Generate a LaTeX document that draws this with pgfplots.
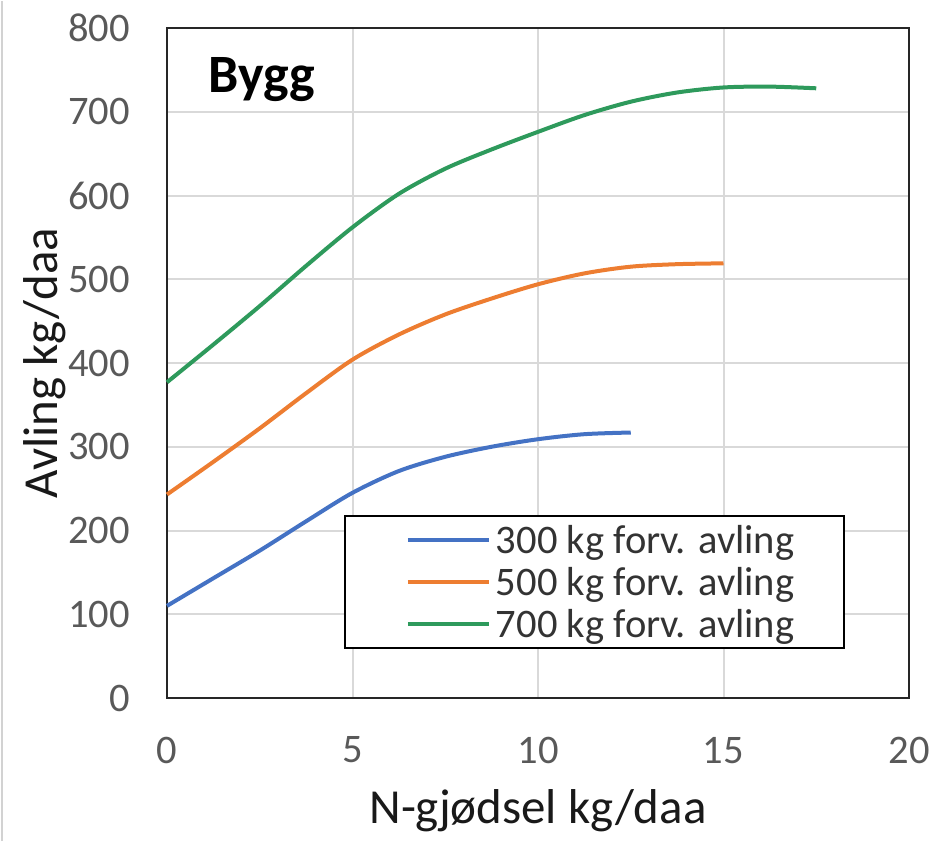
\documentclass[border=0pt]{standalone}
\usepackage{fontspec}
\setmainfont{Carlito}
\usepackage{pgfplots}
\pgfplotsset{compat=1.18}
\definecolor{cblue}{HTML}{4472C4}
\definecolor{corange}{HTML}{ED7D31}
\definecolor{cgreen}{HTML}{2E9A5C}
\definecolor{tickgray}{HTML}{595959}
\definecolor{gridgray}{HTML}{D9D9D9}
\begin{document}
\begin{tikzpicture}
\path (-125.25pt,-107.25pt) rectangle (576pt,522.75pt);
\draw[color=gray!35, line width=1.5pt] (-123.75pt,-107.25pt) -- (-123.75pt,522.75pt);
\begin{axis}[
  at={(0,0)}, anchor=south west,
  scale only axis,
  width=556.5pt, height=502.5pt,
  xmin=0, xmax=20, ymin=0, ymax=800,
  xtick={0,5,10,15,20},
  ytick={0,100,200,300,400,500,600,700,800},
  major tick length=0pt,
  grid=major,
  grid style={color=gridgray, line width=1.5pt},
  axis line style={color=black!85, line width=1.8pt},
  /pgf/number format/assume math mode=true,
  tick label style={font=\fontsize{30.4}{36}\selectfont, color=tickgray, inner sep=0pt},
  yticklabel shift=27.75pt,
  xticklabel shift=29pt,
  every axis y label/.style={at={(axis description cs:0,0.5)}, xshift=-91.5pt, anchor=center, rotate=90, inner sep=0pt},
  every axis x label/.style={at={(axis description cs:0.5,0)}, yshift=-93.75pt, anchor=base, inner sep=0pt},
  label style={font=\fontsize{36.7}{44}\selectfont, color=black!90},
  ylabel={Avling kg/daa},
  xlabel={N-gjødsel kg/daa},
  legend style={at={(axis description cs:0.2385,0.273)}, anchor=north west,
    draw=black, line width=1.5pt, fill=white, inner xsep=0pt, inner ysep=2.25pt,
    font=\fontsize{30.4}{36}\selectfont, text=black!80,
    nodes={inner sep=0pt, minimum height=31.5pt}, row sep=0pt},
  legend cell align=left,
  legend image code/.code={%
    \path[draw=none, fill=none] (-47.25pt,0pt) rectangle (66pt,0.1pt);
    \draw[#1, line width=3pt] (0pt,0pt) -- (60.75pt,0pt);},
  clip=false,
]
\addplot[cblue, line width=3pt, smooth] coordinates {
 (0,110) (1.25,143) (2.5,176) (3.75,211) (5,245) (6.25,271) (7.5,288) (8.75,300) (10,309) (11.25,315) (12.5,317)};
\addlegendentry{300 kg forv. avling\hspace*{37.5pt}}
\addplot[corange, line width=3pt, smooth] coordinates {
 (0,243) (1.25,282) (2.5,322) (3.75,364) (5,404) (6.25,434) (7.5,458) (8.75,477) (10,494) (11.25,507) (12.5,515) (13.75,518) (15,519)};
\addlegendentry{500 kg forv. avling\hspace*{37.5pt}}
\addplot[cgreen, line width=3pt, smooth] coordinates {
 (0,377) (1.25,422) (2.5,468) (3.75,516) (5,562) (6.25,602) (7.5,632) (8.75,655) (10,676) (11.25,696) (12.5,712) (13.75,723) (15,729) (16.25,730) (17.5,728)};
\addlegendentry{700 kg forv. avling\hspace*{37.5pt}}
\node[anchor=base west, inner sep=0pt, font=\fontsize{40.5}{48}\selectfont\bfseries]
  at (axis description cs:0.0553,0.903) {Bygg};
\end{axis}
\end{tikzpicture}
\end{document}
